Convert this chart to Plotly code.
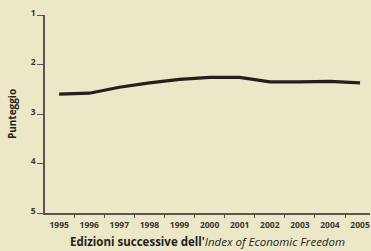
import plotly.graph_objects as go

years = ["1995", "1996", "1997", "1998", "1999", "2000", "2001", "2002", "2003", "2004", "2005"]
scores = [2.60, 2.58, 2.46, 2.37, 2.30, 2.26, 2.26, 2.35, 2.35, 2.34, 2.37]
y_ticks = [1, 2, 3, 4, 5]

bg = "#ECE7C6"
ink = "#231F20"

fig = go.Figure(go.Scatter(x=years, y=scores, mode="lines",
                           line=dict(color=ink, width=3.2), hoverinfo="skip"))

fig.update_layout(
    width=371, height=251,
    margin=dict(l=45, r=1, t=15, b=38),
    paper_bgcolor=bg, plot_bgcolor=bg,
    showlegend=False,
    font=dict(family="Open Sans", color="#3a3536"),
)

fig.update_xaxes(
    type="category", categoryorder="array", categoryarray=years,
    range=[-0.47, 10.33], automargin=False,
    showline=True, linecolor="#5a5553", linewidth=1.5,
    ticks="outside", tickson="boundaries", ticklen=3, tickcolor="#5a5553",
    showgrid=False, zeroline=False, ticklabelstandoff=3,
    tickfont=dict(size=8.5, weight="bold", color="#3a3536"),
    title=dict(text="<b>Edizioni successive dell'</b><i>Index of Economic Freedom</i>",
               font=dict(size=11.5, color=ink), standoff=9),
)
fig.update_yaxes(
    range=[5, 1], tickvals=y_ticks, automargin=False,
    showline=True, linecolor="#5a5553", linewidth=1.5,
    ticks="outside", ticklen=6, tickcolor="#5a5553",
    showgrid=False, zeroline=False, ticklabelshift=2,
    tickfont=dict(size=8.5, weight="bold", color="#3a3536"),
    title=dict(text="<b>Punteggio</b>", font=dict(size=10, color=ink), standoff=12),
)

fig.write_html(
    "out.html",
    config={"displayModeBar": False},
    post_script="document.body.style.margin='0';document.body.style.background='%s';" % bg,
)
